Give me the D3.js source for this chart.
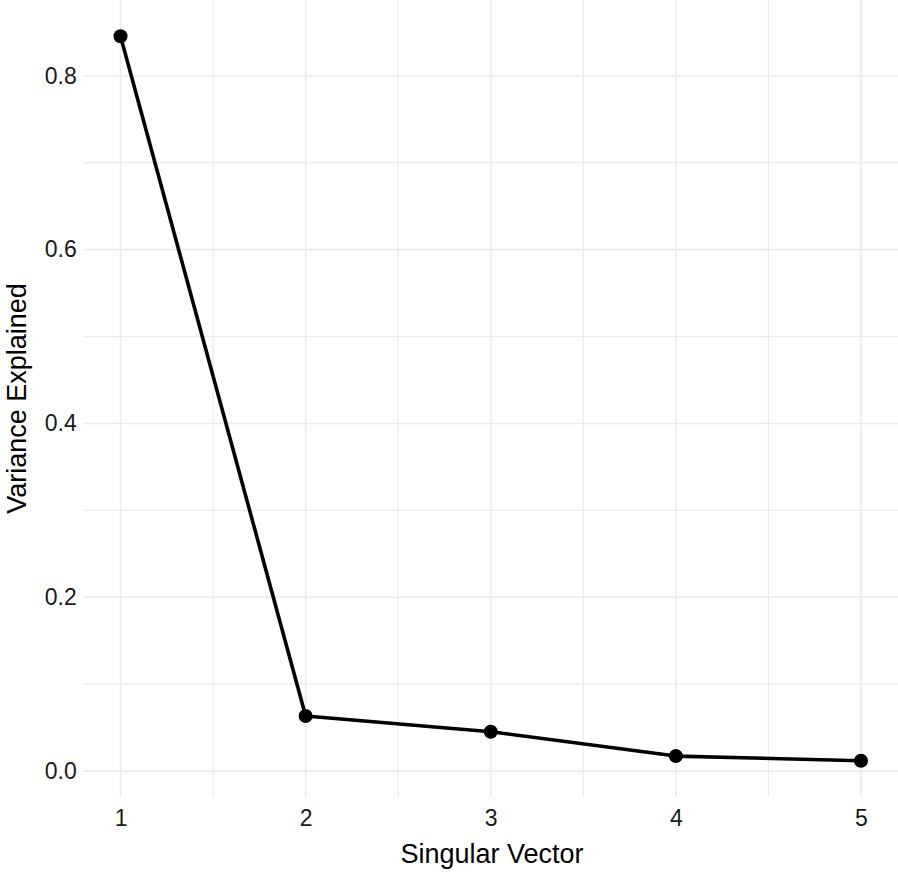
<!DOCTYPE html>
<html>
<head>
<meta charset="utf-8">
<script src="https://cdn.jsdelivr.net/npm/d3@7"></script>
<style>
  body { margin: 0; background: #fff; }
  text { font-family: "Liberation Sans", Arial, sans-serif; }
</style>
</head>
<body>
<div id="chart"></div>
<script>
// data
let vectors = [1, 2, 3, 4, 5];
let variance = [0.8455, 0.0634, 0.0453, 0.0173, 0.0119];
let yTicks = [0.0, 0.2, 0.4, 0.6, 0.8];
let yMinor = [0.1, 0.3, 0.5, 0.7];
let xMinor = [1.5, 2.5, 3.5, 4.5];

let W = 898, H = 874;
let margin = {top: 0, right: 0, bottom: 77, left: 83.5},
    width = W - margin.left - margin.right,
    height = H - margin.top - margin.bottom;

let data = vectors.map(function(v, i) { return {x: v, y: variance[i]}; });

let svg = d3.select("#chart")
            .append("svg")
            .attr("width", W)
            .attr("height", H)
            .append("g")
            .attr("transform", "translate(" + margin.left + "," + margin.top + ")");

// ggplot-style 5% expansion
let xr = d3.extent(vectors), xpad = (xr[1] - xr[0]) * 0.05;
let x = d3.scaleLinear()
          .domain([xr[0] - xpad, xr[1] + xpad])
          .range([0, width]);

let yr = d3.extent(variance), ypad = (yr[1] - yr[0]) * 0.05;
let y = d3.scaleLinear()
          .domain([yr[0] - ypad, yr[1] + ypad])
          .range([height, 0]);

let grid = svg.append("g").attr("stroke", "#ebebeb");

grid.selectAll(".ymin").data(yMinor).enter().append("line")
    .attr("x1", 0).attr("x2", width)
    .attr("y1", function(d) { return y(d); }).attr("y2", function(d) { return y(d); })
    .attr("stroke-width", 1.2);
grid.selectAll(".xmin").data(xMinor).enter().append("line")
    .attr("y1", 0).attr("y2", height)
    .attr("x1", function(d) { return x(d); }).attr("x2", function(d) { return x(d); })
    .attr("stroke-width", 1.2);
grid.selectAll(".ymaj").data(yTicks).enter().append("line")
    .attr("x1", 0).attr("x2", width)
    .attr("y1", function(d) { return y(d); }).attr("y2", function(d) { return y(d); })
    .attr("stroke-width", 1.6);
grid.selectAll(".xmaj").data(vectors).enter().append("line")
    .attr("y1", 0).attr("y2", height)
    .attr("x1", function(d) { return x(d); }).attr("x2", function(d) { return x(d); })
    .attr("stroke-width", 1.6);

// axes, no domain or ticks, just labels
let xAxis = svg.append("g")
    .attr("transform", "translate(0," + height + ")")
    .call(d3.axisBottom(x).tickValues(vectors).tickSize(0).tickPadding(13).tickFormat(d3.format("d")));
let yAxis = svg.append("g")
    .call(d3.axisLeft(y).tickValues(yTicks).tickSize(0).tickPadding(6.8).tickFormat(d3.format(".1f")));

[xAxis, yAxis].forEach(function(a) {
    a.select(".domain").remove();
    a.attr("font-size", null).attr("font-family", null);
    a.selectAll("text")
     .attr("fill", "#1a1a1a")
     .style("font-size", "23px");
});

svg.append("path")
    .datum(data)
    .attr("fill", "none")
    .attr("stroke", "#000")
    .attr("stroke-width", 3.6)
    .attr("stroke-linejoin", "round")
    .attr("d", d3.line()
        .x(function(d) { return x(d.x); })
        .y(function(d) { return y(d.y); }));

svg.append("g")
    .selectAll("circle")
    .data(data)
    .enter()
    .append("circle")
    .attr("cx", function(d) { return x(d.x); })
    .attr("cy", function(d) { return y(d.y); })
    .attr("r", 7)
    .attr("fill", "#000");

svg.append("text")
    .attr("text-anchor", "middle")
    .attr("x", 492 - margin.left)
    .attr("y", height + 66)
    .attr("fill", "#000")
    .style("font-size", "27px")
    .text("Singular Vector");

svg.append("text")
    .attr("text-anchor", "middle")
    .attr("transform", "rotate(-90)")
    .attr("x", -height / 2)
    .attr("y", -margin.left + 26)
    .attr("fill", "#000")
    .style("font-size", "27px")
    .text("Variance Explained");
</script>
</body>
</html>
